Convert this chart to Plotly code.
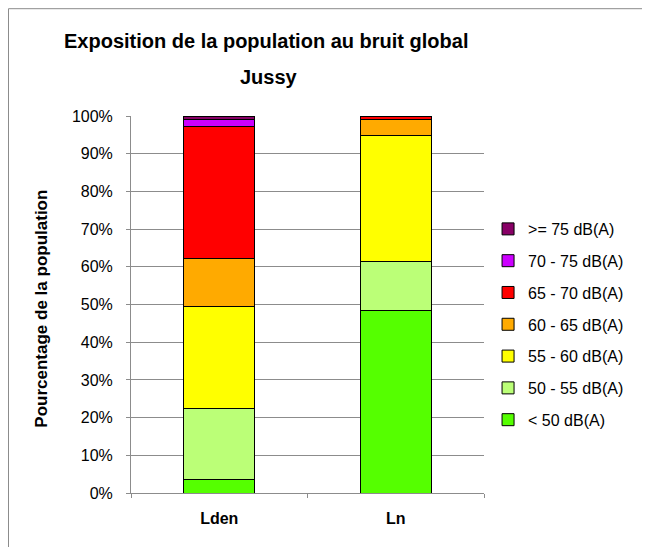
import plotly.graph_objects as go

categories = ['Lden', 'Ln']
classes = ['< 50 dB(A)', '50 - 55 dB(A)', '55 - 60 dB(A)', '60 - 65 dB(A)',
           '65 - 70 dB(A)', '70 - 75 dB(A)', '>= 75 dB(A)']
colors = ['#55FF00', '#BBFF77', '#FFFF00', '#FFAA00', '#FF0000', '#CC00FF', '#880066']

# part of the population (%) per class, for Lden and Ln
lden = [3.5, 18.9, 27.1, 12.8, 34.8, 1.9, 1.0]
ln = [48.3, 13.2, 33.3, 4.2, 1.0, 0.0, 0.0]

fig = go.Figure()

for i, name in enumerate(classes):
    fig.add_trace(go.Bar(x=categories,
                         y=[lden[i] / 100, ln[i] / 100],
                         name=name,
                         legendgroup=name,
                         legendrank=100 - i,
                         marker=dict(color=colors[i], line=dict(color='black', width=1))))

# page body has an 8px margin, so the figure is a bit smaller than the window
fig.update_layout(
    barmode='stack',
    bargap=0.6,
    width=642, height=539,
    margin=dict(l=123, r=166, t=108, b=54),
    paper_bgcolor='white', plot_bgcolor='white',
    font=dict(family='Liberation Sans, Arial', size=16, color='black'),
    legend=dict(traceorder='grouped', tracegroupgap=8,
                x=1.0115, xanchor='left', y=0.447, yanchor='middle',
                font=dict(size=16), itemwidth=30, bgcolor='rgba(0,0,0,0)'),
    showlegend=True,
)

fig.update_yaxes(range=[0, 1], dtick=0.1, tickformat='.0%',
                 showgrid=True, gridcolor='#8c8c8c', gridwidth=1,
                 showline=True, linecolor='#8c8c8c', linewidth=1,
                 ticks='outside', tickcolor='#8c8c8c', ticklen=4,
                 ticklabelstandoff=10, zeroline=False)
fig.update_xaxes(showline=True, linecolor='#8c8c8c', linewidth=1,
                 ticks='outside', tickcolor='#8c8c8c', ticklen=4,
                 tickson='boundaries', ticklabelstandoff=11,
                 tickfont=dict(size=16, weight='bold'))

title_font = dict(family='Liberation Sans, Arial', size=20, color='black', weight='bold')
fig.add_annotation(text='Exposition de la population au bruit global', showarrow=False,
                   xref='paper', yref='paper', x=(266 - 131) / 353, y=1.2,
                   xanchor='center', yanchor='middle', font=title_font)
fig.add_annotation(text='Jussy', showarrow=False,
                   xref='paper', yref='paper', x=(269 - 131) / 353, y=1.103,
                   xanchor='center', yanchor='middle', font=title_font)
fig.add_annotation(text='Pourcentage de la population', showarrow=False, textangle=-90,
                   xref='paper', yref='paper', x=(42 - 131) / 353, y=0.489,
                   xanchor='center', yanchor='middle', font=dict(size=17, weight='bold'))

# outer chart border
fig.add_shape(type='rect', xref='paper', yref='paper',
              x0=(8.5 - 131) / 353, x1=(700 - 131) / 353,
              y0=(493.3 - 600) / 377, y1=(493.3 - 9) / 377,
              line=dict(color='#8c8c8c', width=1), fillcolor='rgba(0,0,0,0)', layer='below')

fig.write_html('out.html')
